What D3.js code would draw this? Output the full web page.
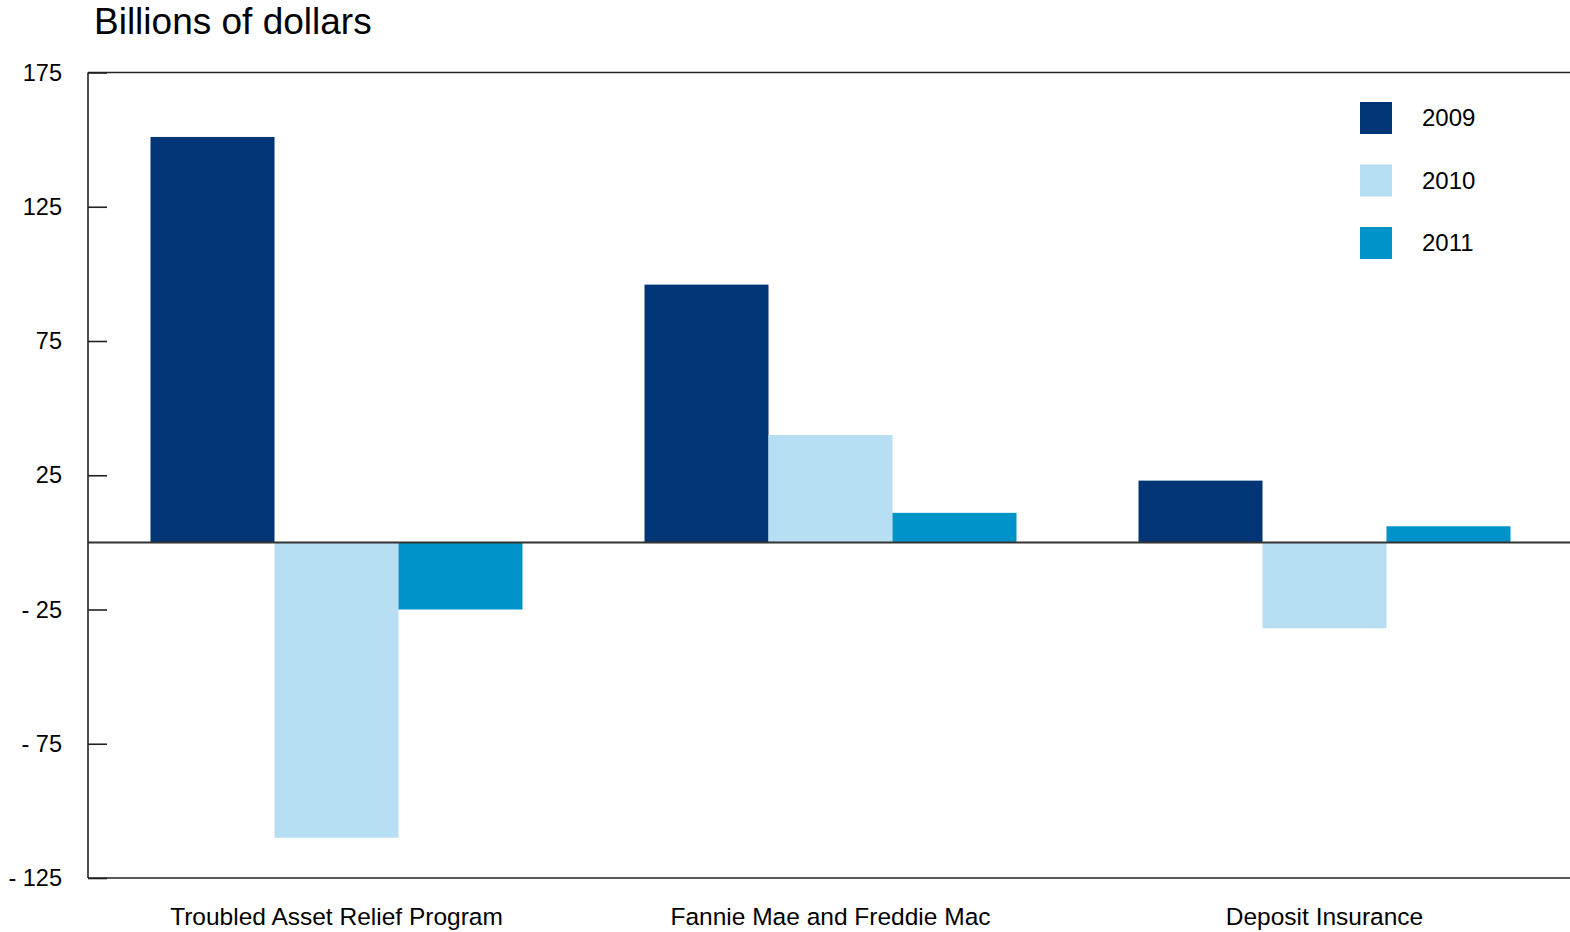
<!DOCTYPE html>
<html>
<head>
<meta charset="utf-8">
<script src="https://cdn.jsdelivr.net/npm/d3@7"></script>
<style>
	body { margin: 0; background: #fff; }
	svg text { font-family: "Liberation Sans", Arial, sans-serif; fill: #000; }
</style>
</head>
<body>
<div id="app"></div>
<script>
// data
const programs = ['Troubled Asset Relief Program', 'Fannie Mae and Freddie Mac', 'Deposit Insurance'];
const years = ['2009', '2010', '2011'];
const values2009 = [151, 96, 23];
const values2010 = [-110, 40, -32];
const values2011 = [-25, 11, 6];
const yTicks = [175, 125, 75, 25, -25, -75, -125];
const colors = ['#023575', '#b7dff4', '#0093c9'];

const seriesValues = [values2009, values2010, values2011];

const width = 1570,
	height = 932,
	plot = { left: 88, right: 1570, top: 72.5, bottom: 878 };

const svg = d3.select('#app').append('svg')
	.attr('width', width)
	.attr('height', height);

// bands run a pixel past the frame, as in the reference
const x0 = d3.scaleBand()
	.domain(programs)
	.range([plot.left + 1.5, plot.right + 1.5])
	.paddingInner(0.247)
	.paddingOuter(0.1235);

const x1 = d3.scaleBand()
	.domain(years)
	.range([0, x0.bandwidth()]);

const y = d3.scaleLinear()
	.domain([-125, 175])
	.range([plot.bottom, plot.top]);

const colour = d3.scaleOrdinal()
	.domain(years)
	.range(colors);

// flatten into one row per bar
const rows = [];
programs.forEach((p, i) => {
	years.forEach((yr, j) => {
		rows.push({ program: p, year: yr, value: seriesValues[j][i] });
	});
});

svg.append('g')
	.selectAll('rect')
	.data(rows)
	.enter().append('rect')
	.attr('x', d => x0(d.program) + x1(d.year))
	.attr('width', x1.bandwidth())
	.attr('y', d => y(Math.max(0, d.value)))
	.attr('height', d => Math.abs(y(d.value) - y(0)))
	.attr('fill', d => colour(d.year));

// frame: top and bottom borders
svg.append('line')
	.attr('x1', plot.left).attr('x2', plot.right)
	.attr('y1', plot.top).attr('y2', plot.top)
	.attr('stroke', '#222').attr('stroke-width', 1.6);
svg.append('line')
	.attr('x1', plot.left).attr('x2', plot.right)
	.attr('y1', plot.bottom).attr('y2', plot.bottom)
	.attr('stroke', '#222').attr('stroke-width', 1.6);

// zero line on top of the bars
svg.append('line')
	.attr('x1', plot.left).attr('x2', plot.right)
	.attr('y1', y(0)).attr('y2', y(0))
	.attr('stroke', '#333').attr('stroke-width', 2);

const yAxis = d3.axisLeft(y)
	.tickValues(yTicks)
	.tickSize(-19)
	.tickPadding(26)
	.tickFormat(d => d < 0 ? '- ' + Math.abs(d) : d);

const yG = svg.append('g')
	.attr('transform', `translate(${plot.left},0)`)
	.call(yAxis);
yG.select('.domain')
	.attr('stroke', '#222')
	.attr('stroke-width', 1.6)
	.attr('d', `M0,${plot.top}V${plot.bottom}`);
yG.selectAll('.tick line').attr('stroke', '#222').attr('stroke-width', 1.6);
yG.selectAll('.tick text')
	.attr('font-size', 23.5)
	.attr('font-family', '"Liberation Sans", Arial, sans-serif')
	.attr('fill', '#000');

// category labels
svg.append('g')
	.selectAll('text')
	.data(programs)
	.enter().append('text')
	.attr('x', d => x0(d) + x0.bandwidth() / 2)
	.attr('y', 925)
	.attr('text-anchor', 'middle')
	.attr('font-size', 24.5)
	.text(d => d);

// title
svg.append('text')
	.attr('x', 94)
	.attr('y', 34)
	.attr('font-size', 37)
	.text('Billions of dollars');

// legend
const legend = svg.append('g')
	.attr('transform', 'translate(1360,102)');
const items = legend.selectAll('g')
	.data(years)
	.enter().append('g')
	.attr('transform', (d, i) => `translate(0,${i * 62.5})`);
items.append('rect')
	.attr('width', 32)
	.attr('height', 32)
	.attr('fill', d => colour(d));
items.append('text')
	.attr('x', 62)
	.attr('y', 16)
	.attr('dy', '0.35em')
	.attr('font-size', 24)
	.text(d => d);
</script>
</body>
</html>
